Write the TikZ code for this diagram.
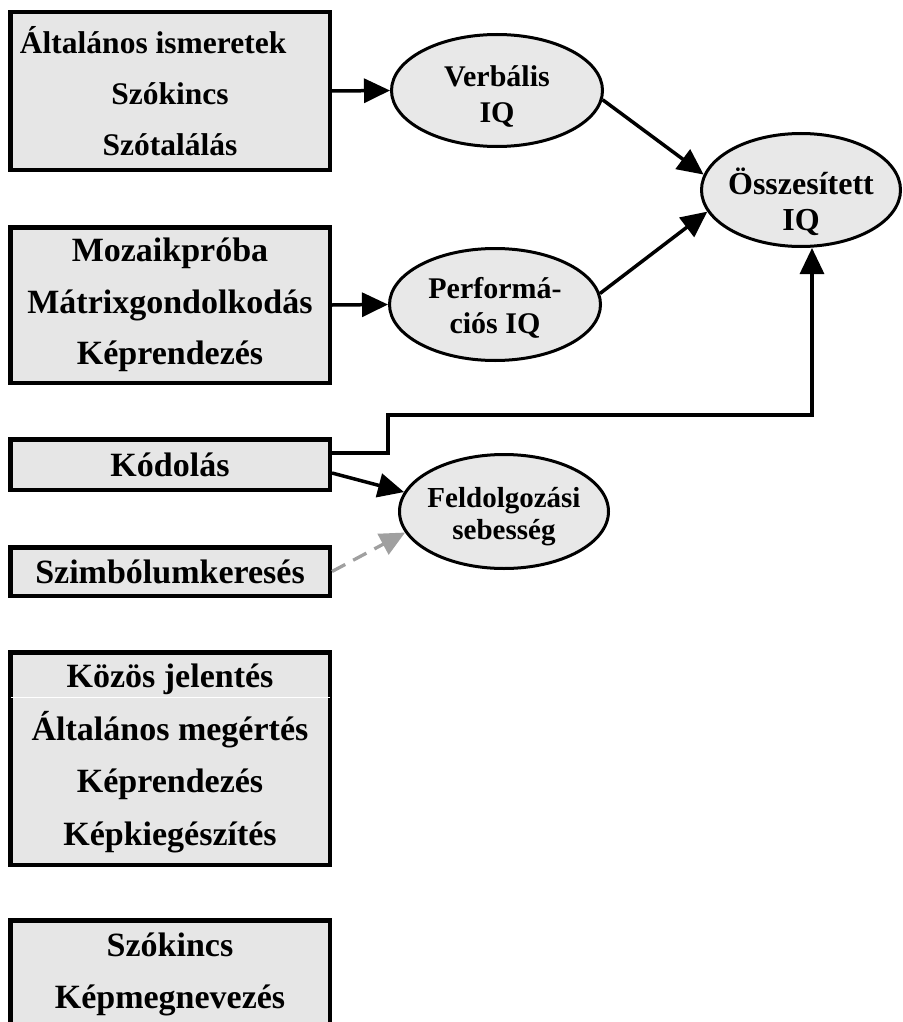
\documentclass[tikz,border=0pt]{standalone}
\usepackage{fontspec}
\setmainfont{Liberation Serif}
\usetikzlibrary{shapes.geometric,arrows.meta}
\definecolor{boxgray}{HTML}{E6E6E6}
\definecolor{ellgray}{HTML}{E8E8E8}
\definecolor{dashgray}{HTML}{A0A0A0}
\begin{document}
\begin{tikzpicture}[x=1pt,y=-1pt,
  boxst/.style={draw=black, line width=4.5pt, fill=boxgray, rectangle,
    minimum width=319.5pt, inner sep=0pt, align=center,
    font=\bfseries\fontsize{34}{51.5}\selectfont},
  ell/.style={draw=black, line width=3pt, fill=ellgray, ellipse, inner sep=0pt},
  etxt/.style={align=center, inner sep=0pt, font=\bfseries\fontsize{30}{36}\selectfont},
  conn/.style={line width=3.5pt, -{Triangle[length=26pt,width=24pt]}},
  dconn/.style={line width=3.3pt, draw=dashgray, dash pattern=on 15pt off 9pt,
    -{Triangle[length=25pt,width=23pt]}},
]
\useasboundingbox (0,0) rectangle (902,1022);
\clip (0,0) rectangle (902,1022);

% boxes
\node[boxst, minimum height=157.5pt, font=\bfseries\fontsize{31.5}{51}\selectfont] (b1) at (170,91)
  {\makebox[265pt][l]{\hspace*{-17.5pt}Általános ismeretek}\\Szókincs\\Szótalálás};
\node[boxst, minimum height=155.5pt] (b2) at (170,305)
  {Mozaikpróba\\Mátrixgondolkodás\\Képrendezés};
\node[boxst, minimum height=50.5pt] (kod) at (170,464.5) {Kódolás};
\node[boxst, minimum height=48.5pt] (szim) at (170,571.5) {Szimbólumkeresés};
\node[boxst, minimum height=212.5pt, font=\bfseries\fontsize{34}{52.5}\selectfont] (b5) at (170,758.5)
  {Közös jelentés\\Általános megértés\\Képrendezés\\Képkiegészítés};
\draw[white, line width=1pt] (10.5,697) -- (329.5,697);
\node[boxst, minimum height=108.5pt, font=\bfseries\fontsize{34}{52}\selectfont] (b6) at (170,974.5)
  {Szókincs\\Képmegnevezés};

% ellipses
\node[ell, minimum width=211pt, minimum height=112pt,
  label={[etxt, yshift=-6pt]center:Verbális\\IQ}] (verb) at (497,90.5) {};
\node[ell, minimum width=211pt, minimum height=112pt,
  label={[etxt, yshift=-3.5pt, font=\bfseries\fontsize{30}{35}\selectfont]center:Performá-\\ciós IQ}] (perf) at (495,304.5) {};
\node[ell, minimum width=199pt, minimum height=113pt,
  label={[etxt, yshift=-12pt, font=\bfseries\fontsize{32}{36}\selectfont]center:Összesített\\IQ}] (ossz) at (801,190) {};
\node[ell, minimum width=209pt, minimum height=114pt,
  label={[etxt, yshift=-5pt, font=\bfseries\fontsize{29}{32}\selectfont]center:Feldolgozási\\sebesség}] (feld) at (504,511.5) {};

% connectors
\draw[conn] (b1.east) -- (verb.west);
\draw[conn] (b2.east) -- (perf.west);
\draw[conn] (verb.-5) -- (ossz.171);
\draw[conn] (perf.6) -- (ossz.193);
\coordinate (k1) at (388,415);
\draw[conn, line width=3.2pt] ([yshift=11.5pt]kod.east) -| (k1) -| ([xshift=11pt]ossz.south);
\draw[conn] ([yshift=-8.5pt]kod.east) -- (feld.169);
\draw[dconn] (szim.east) -- (feld.192);
\end{tikzpicture}
\end{document}
